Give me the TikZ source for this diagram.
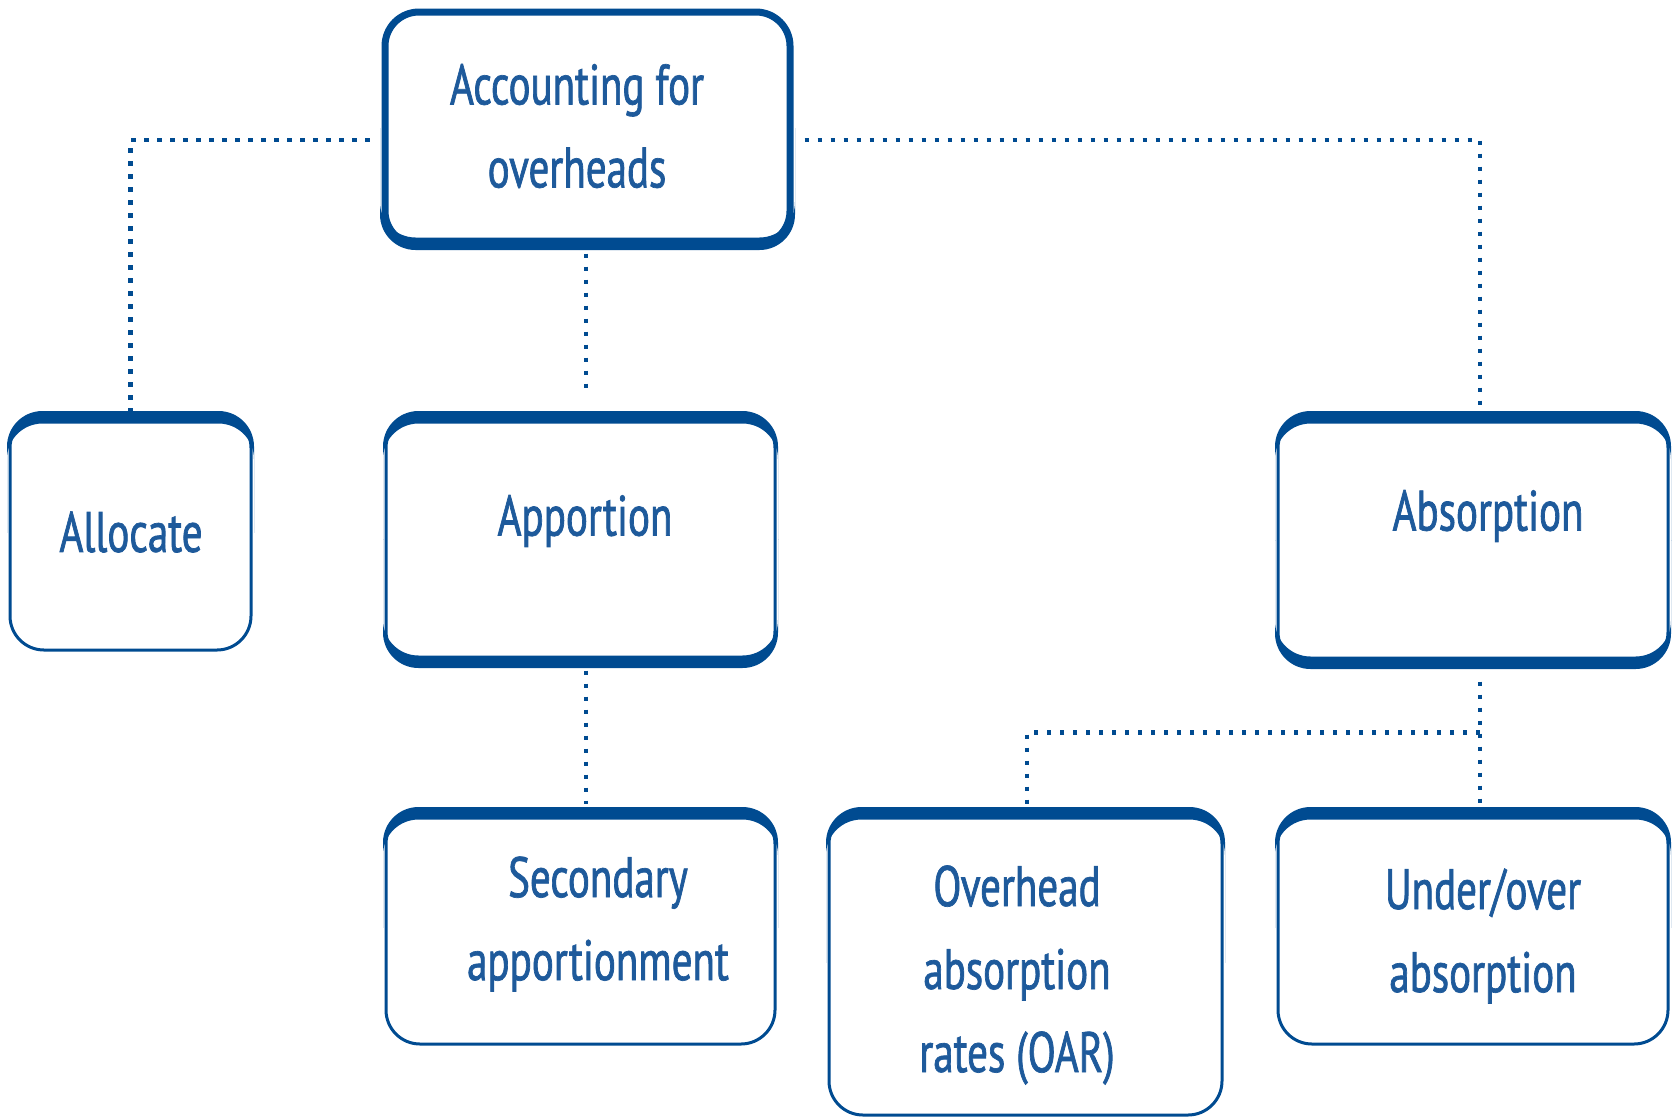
\documentclass[tikz,border=0pt]{standalone}
\usepackage{fontspec}
\setmainfont[FakeStretch=0.72,FakeBold=1.2]{PT Sans}
\usetikzlibrary{calc}
\definecolor{navy}{RGB}{0,75,145}
\definecolor{txtblue}{RGB}{30,90,155}
\newcommand\hvtop[2]{%
  \begin{scope}
    \clip ([shift={(-12pt,12pt)}]#1.north west) rectangle ([xshift=12pt]#1.east);
    \fill[navy, even odd rule, rounded corners=35.5pt]
      ([shift={(-1.5pt,1.5pt)}]#1.north west) rectangle ([shift={(1.5pt,-1.5pt)}]#1.south east)
      ([shift={(-1.5pt,-#2)}]#1.north west) rectangle ([shift={(1.5pt,-#2-1.5pt)}]#1.south east);
  \end{scope}}
\newcommand\hvbot[2]{%
  \begin{scope}
    \clip ([xshift=-12pt]#1.west) rectangle ([shift={(12pt,-12pt)}]#1.south east);
    \fill[navy, even odd rule, rounded corners=35.5pt]
      ([shift={(-1.5pt,1.5pt)}]#1.north west) rectangle ([shift={(1.5pt,-1.5pt)}]#1.south east)
      ([shift={(-1.5pt,#2+1.5pt)}]#1.north west) rectangle ([shift={(1.5pt,#2)}]#1.south east);
  \end{scope}}
\begin{document}
\begin{tikzpicture}[x=1pt,y=-1pt,
  box/.style={draw=navy, line width=3pt, rounded corners=34pt, fill=white, inner sep=0pt},
  conn/.style={draw=navy, line width=4.5pt, dash pattern=on 4.5pt off 8.5pt},
  lbl/.style={text=txtblue, font=\fontsize{57}{83}\selectfont, align=center, inner sep=0pt}]
\useasboundingbox (0,0) rectangle (1678,1117);

% boxes
\node[box, line width=7pt, minimum width=405pt, minimum height=233pt] (top) at (587.5,128.5) {};
\node[box, minimum width=241pt, minimum height=236pt] (alloc) at (130.5,532) {};
\node[box, minimum width=389pt, minimum height=251pt] (app) at (580.5,539.5) {};
\node[box, minimum width=390pt, minimum height=252pt] (abs) at (1473,540) {};
\node[box, minimum width=389pt, minimum height=234pt] (sec) at (580.5,927) {};
\node[box, minimum width=393pt, minimum height=305pt] (oar) at (1025.5,962.5) {};
\node[box, minimum width=390pt, minimum height=234pt] (uo) at (1473,927) {};

% heavy top and bottom edges
\hvtop{alloc}{11pt}
\hvtop{app}{11pt}
\hvtop{abs}{11pt}
\hvtop{sec}{11pt}
\hvtop{oar}{11pt}
\hvtop{uo}{11pt}
\hvbot{top}{11pt}
\hvbot{app}{11pt}
\hvbot{abs}{11pt}

% labels
\node[lbl] (ttop) at (577,126) {Accounting for\\overheads};
\node[lbl] (talloc) at (131,532) {Allocate};
\node[lbl] (tapp) at (585,521) {Apportion};
\node[lbl] (tabs) at (1488,516) {Absorption};
\node[lbl] (tsec) at (598,924) {Secondary\\apportionment};
\node[lbl] (toar) at (1017,975) {Overhead\\absorption\\rates (OAR)};
\node[lbl] (tuo) at (1483,936) {Under/over\\absorption};

% connectors
\draw[conn] ([xshift=-12pt,yshift=-11.5pt]top.west) -| ([yshift=2pt]alloc.north);
\draw[conn] ([xshift=-1.5pt,yshift=-5pt]top.south) -- ([xshift=5.5pt,yshift=16pt]app.north);
\draw[conn] ([xshift=11pt,yshift=-11.5pt]top.east) -| ([xshift=7pt,yshift=7pt]abs.north);
\draw[conn] ([xshift=5.5pt,yshift=-4pt]app.south) -- ([xshift=5.5pt,yshift=5pt]sec.north);
\draw[conn] ([xshift=7pt,yshift=-14pt]abs.south) -- ([xshift=7pt,yshift=2pt]uo.north);
\draw[conn] ($(abs.south)+(7,65)$) -| ([xshift=1.5pt,yshift=2pt]oar.north);
\end{tikzpicture}
\end{document}
